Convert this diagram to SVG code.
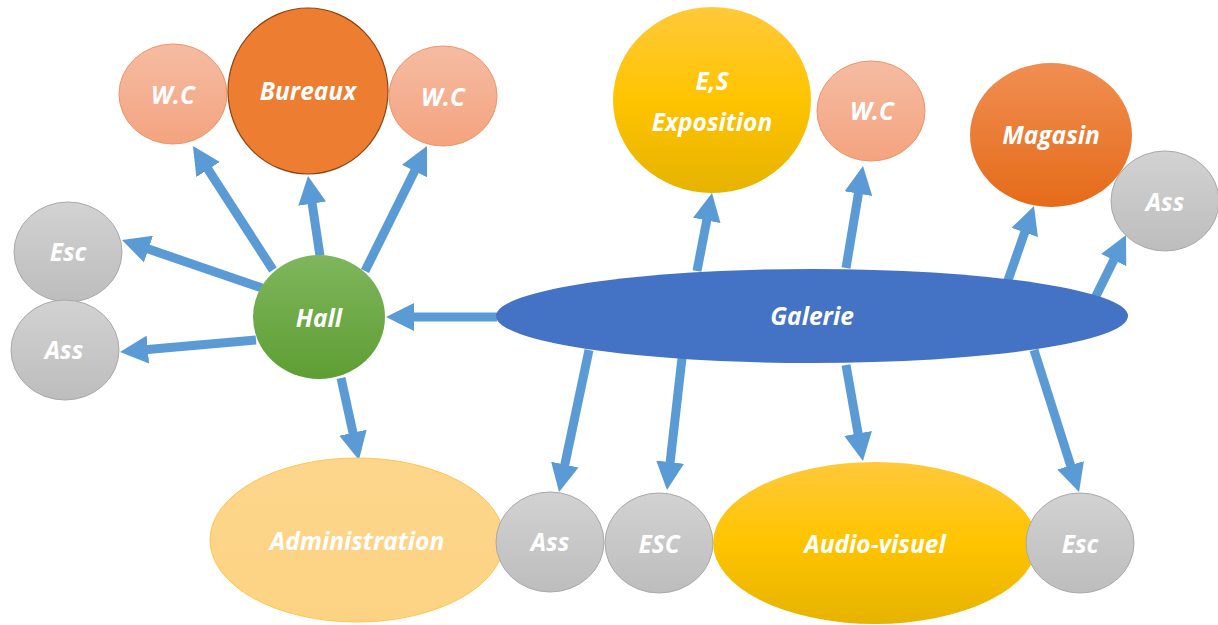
<svg xmlns="http://www.w3.org/2000/svg" width="1218" height="625" viewBox="0 0 1218 625">
<defs>
<linearGradient id="gSalmon" x1="0" y1="0" x2="0" y2="1"><stop offset="0" stop-color="#f5bca3"/><stop offset="1" stop-color="#f4a37f"/></linearGradient>
<linearGradient id="gGrey" x1="0" y1="0" x2="0" y2="1"><stop offset="0" stop-color="#d2d2d2"/><stop offset="1" stop-color="#bdbdbd"/></linearGradient>
<linearGradient id="gGreen" x1="0" y1="0" x2="0" y2="1"><stop offset="0" stop-color="#7fb65d"/><stop offset="1" stop-color="#5e9e33"/></linearGradient>
<linearGradient id="gGold" x1="0" y1="0" x2="0" y2="1"><stop offset="0" stop-color="#ffc93a"/><stop offset="0.5" stop-color="#ffc400"/><stop offset="1" stop-color="#e6b300"/></linearGradient>
<linearGradient id="gOrange" x1="0" y1="0" x2="0" y2="1"><stop offset="0" stop-color="#f08e52"/><stop offset="1" stop-color="#e56b19"/></linearGradient>
<linearGradient id="gAdmin" x1="0" y1="0" x2="0" y2="1"><stop offset="0" stop-color="#fdd68c"/><stop offset="1" stop-color="#fdd383"/></linearGradient>
<marker id="ah" markerUnits="userSpaceOnUse" markerWidth="28" markerHeight="28" refX="3" refY="14" orient="auto" viewBox="0 0 28 28">
<path d="M0,0 L28,14 L0,28 z" fill="#5b9bd5"/>
</marker>
</defs>
<style>
.c{stroke:#5b9bd5;stroke-width:9;fill:none;marker-end:url(#ah)}
.t{font-family:"Open Sans","Noto Sans",sans-serif;font-weight:bold;font-style:italic;font-size:24.5px;fill:#fff;text-anchor:middle;dominant-baseline:central}
.wc{fill:url(#gSalmon);stroke:#f19466;stroke-width:1}
.gr{fill:url(#gGrey);stroke:#a9a9a9;stroke-width:1}
</style>
<rect width="1218" height="625" fill="#fff"/>
<g id="connectors">
<line class="c" x1="273" y1="270" x2="206.5" y2="167"/>
<line class="c" x1="320" y1="256" x2="311.7" y2="200.7"/>
<line class="c" x1="365" y1="271" x2="415.9" y2="168.4"/>
<line class="c" x1="262" y1="288" x2="145.6" y2="248.1"/>
<line class="c" x1="256" y1="340" x2="144.9" y2="349.8"/>
<line class="c" x1="497" y1="317" x2="411" y2="317"/>
<line class="c" x1="341" y1="378" x2="353.6" y2="435.6"/>
<line class="c" x1="697" y1="271" x2="707.3" y2="217.5"/>
<line class="c" x1="846" y1="268" x2="858.9" y2="190.7"/>
<line class="c" x1="1007" y1="283" x2="1025.7" y2="229.6"/>
<line class="c" x1="1094" y1="300" x2="1115" y2="257.4"/>
<line class="c" x1="589" y1="350" x2="564.2" y2="467.5"/>
<line class="c" x1="682" y1="358" x2="669.8" y2="465.1"/>
<line class="c" x1="846" y1="365" x2="858.6" y2="436.4"/>
<line class="c" x1="1034" y1="350" x2="1071.5" y2="468.2"/>
</g>
<g id="wc-left"><ellipse class="wc" cx="173" cy="94" rx="54" ry="50"/><text class="t" x="173" y="94">W.C</text></g>
<g id="bureaux"><ellipse cx="308" cy="91" rx="80" ry="83" fill="#ed7d31" stroke="#8f4312" stroke-width="1.2"/><text class="t" x="308" y="90">Bureaux</text></g>
<g id="wc-right"><ellipse class="wc" cx="443" cy="96" rx="54" ry="50"/><text class="t" x="443" y="96">W.C</text></g>
<g id="esc-left"><ellipse class="gr" cx="68" cy="252" rx="54" ry="50"/><text class="t" x="68" y="251">Esc</text></g>
<g id="ass-left"><ellipse class="gr" cx="65" cy="350" rx="54" ry="50"/><text class="t" x="64" y="349">Ass</text></g>
<g id="hall"><ellipse cx="319" cy="317" rx="66" ry="62" fill="url(#gGreen)"/><text class="t" x="319" y="317">Hall</text></g>
<g id="galerie"><ellipse cx="812" cy="316" rx="316" ry="47" fill="#4472c4"/><text class="t" x="812" y="315">Galerie</text></g>
<g id="exposition"><ellipse cx="712" cy="100" rx="99" ry="93" fill="url(#gGold)"/><text class="t" x="712" y="80">E,S</text><text class="t" x="712" y="121">Exposition</text></g>
<g id="wc-mid"><ellipse class="wc" cx="871" cy="111" rx="54" ry="50"/><text class="t" x="872" y="110">W.C</text></g>
<g id="magasin"><ellipse cx="1051" cy="135" rx="81" ry="72" fill="url(#gOrange)"/><text class="t" x="1051" y="134">Magasin</text></g>
<g id="ass-right"><ellipse class="gr" cx="1165" cy="201" rx="54" ry="50"/><text class="t" x="1165" y="201">Ass</text></g>
<g id="administration"><ellipse cx="357" cy="540" rx="147" ry="82" fill="url(#gAdmin)" stroke="#fcc74a" stroke-width="1"/><text class="t" x="357" y="540">Administration</text></g>
<g id="ass-bottom"><ellipse class="gr" cx="550" cy="542" rx="54" ry="50"/><text class="t" x="550" y="541">Ass</text></g>
<g id="esc-mid"><ellipse class="gr" cx="659" cy="543" rx="54" ry="50"/><text class="t" x="659" y="543">ESC</text></g>
<g id="audio-visuel"><ellipse cx="875" cy="543" rx="162" ry="81" fill="url(#gGold)"/><text class="t" x="875" y="543">Audio-visuel</text></g>
<g id="esc-right"><ellipse class="gr" cx="1080" cy="543" rx="54" ry="50"/><text class="t" x="1080" y="543">Esc</text></g>
</svg>
